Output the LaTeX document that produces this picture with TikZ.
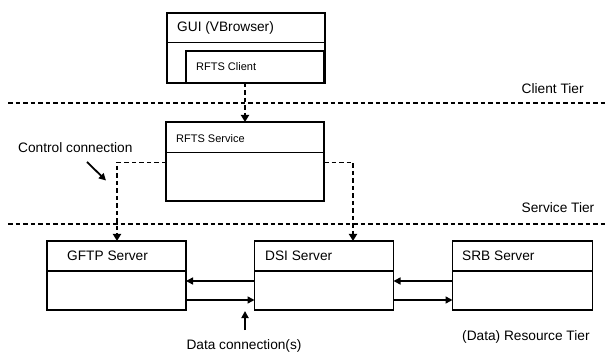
\documentclass[tikz,border=0pt]{standalone}
\usepackage{fontspec}
\setmainfont{Liberation Sans}
\usetikzlibrary{arrows.meta}
\begin{document}
\begin{tikzpicture}[x=1pt,y=-1pt,
  box/.style={draw,line width=1.9pt},
  divider/.style={line width=1.6pt},
  tierline/.style={line width=2pt,dash pattern=on 4.5pt off 3pt},
  ctrl/.style={line width=1.9pt,dash pattern=on 4.5pt off 3pt,-{Triangle[length=7pt,width=8pt]}},
  data/.style={line width=1.5pt,-{Triangle[length=7pt,width=7pt]}},
  lbl/.style={font=\fontsize{13.7}{16}\selectfont,anchor=west,inner sep=0pt},
  small/.style={font=\fontsize{11}{13}\selectfont,anchor=west,inner sep=0pt}]
\useasboundingbox (0,0) rectangle (607,352);

% client tier: GUI with embedded RFTS client
\draw[box] (167,13) rectangle (325,83);
\draw[divider] (167,42.5) -- (325,42.5);
\node[lbl] (gui) at (177,28) {GUI (VBrowser)};
\draw[box,fill=white] (186,51) rectangle (324,83);
\node[small] (client) at (196,67) {RFTS Client};
\coordinate (clientb) at (245,83);

% tier separators
\draw[tierline] (8,103) -- (607,103);
\draw[tierline] (8,224.5) -- (607,224.5);
\node[lbl] (ct) at (521.5,88.5) {Client Tier};
\node[lbl] (st) at (521.5,207.5) {Service Tier};
\node[lbl] (rt) at (462,337) {(Data) Resource Tier};

% service tier
\draw[box] (166,122) rectangle (324,201);
\draw[divider] (166,152.5) -- (324,152.5);
\node[small] (svc) at (176,139) {RFTS Service};
\coordinate (svctop) at (245,122);
\coordinate (svcl) at (166,162.5);
\coordinate (svcr) at (324,162.5);

% resource tier servers
\draw[box] (47,241) rectangle (186,310);
\draw[divider] (47,271) -- (186,271);
\node[lbl] (gftp) at (67,256) {GFTP Server};
\draw[box] (254.5,241) rectangle (393.5,310);
\draw[divider] (254.5,271) -- (393.5,271);
\node[lbl] (dsi) at (265,256) {DSI Server};
\draw[box] (452.5,241) rectangle (592.5,310);
\draw[divider] (452.5,271) -- (592.5,271);
\node[lbl] (srb) at (462,256) {SRB Server};

\coordinate (gftptop) at (117,241);
\coordinate (dsitop) at (353,241);
\coordinate (gftpr1) at (186,281);
\coordinate (gftpr2) at (186,300);
\coordinate (dsil1) at (254.5,281);
\coordinate (dsil2) at (254.5,300);
\coordinate (dsir1) at (393.5,281);
\coordinate (dsir2) at (393.5,300);
\coordinate (srbl1) at (452.5,281);
\coordinate (srbl2) at (452.5,300);

% control connections
\draw[ctrl] (clientb) -- (svctop);
\draw[ctrl] (svcl) -| (gftptop);
\draw[ctrl] (svcr) -| (dsitop);

% data connections
\draw[data] (dsil1) -- (gftpr1);
\draw[data] (gftpr2) -- (dsil2);
\draw[data] (srbl1) -- (dsir1);
\draw[data] (dsir2) -- (srbl2);

% annotations
\node[lbl] (ctrllbl) at (18,147.5) {Control connection};
\coordinate (ctrlarr) at (87,162);
\draw[data,line width=1.8pt] (ctrlarr) -- (106,180.5);
\node[lbl,anchor=center] (datalbl) at (244,345.5) {Data connection(s)};
\draw[data,line width=1.8pt] (245,330) -- (245,311);
\end{tikzpicture}
\end{document}
